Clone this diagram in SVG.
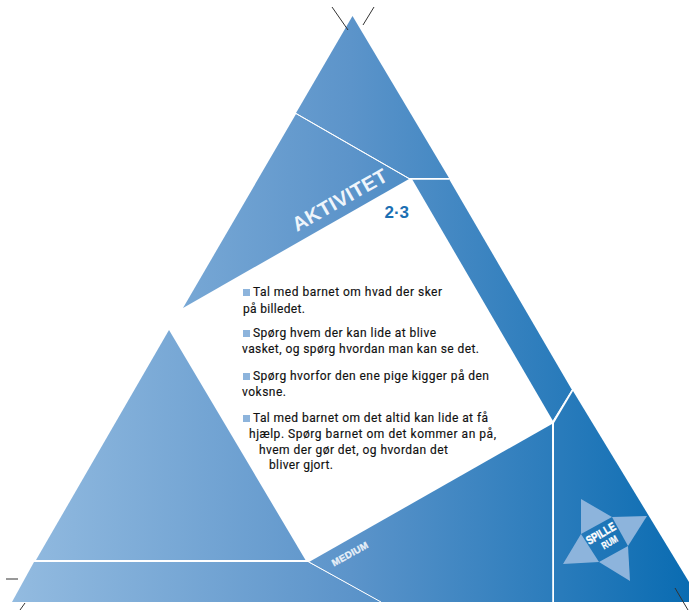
<svg xmlns="http://www.w3.org/2000/svg" width="689" height="610" viewBox="0 0 689 610">
<style>
.f{fill:url(#g)}
.w{stroke:#fff;fill:none}
.tick{stroke:#333;stroke-width:1;fill:none}
.b{font-family:"Roboto","Liberation Sans",sans-serif;font-size:12px;font-weight:400;fill:#111;stroke:#111;stroke-width:0.150}
.s{fill:#8db4dc}
.h{font-family:"Liberation Sans",sans-serif;font-weight:700}
</style>
<defs>
<linearGradient id="g" gradientUnits="userSpaceOnUse" x1="12" y1="0" x2="689" y2="0">
<stop offset="0" stop-color="#93bbe0"/>
<stop offset="0.5" stop-color="#5c94ca"/>
<stop offset="1" stop-color="#0a6cb2"/>
</linearGradient>
</defs>
<rect width="689" height="610" fill="#fff"/>
<polygon class="f" points="352.5,16 449,178 409,178 296,113"/>
<polygon class="f" points="296,114 409,179 183,308"/>
<polygon class="f" points="412,179 449,179 572,390 553,421"/>
<polygon class="f" points="573,391 689,582 689,602 554,602 554,423"/>
<polygon class="f" points="309,562 552,424 553,602 381,602"/>
<polygon class="f" points="169,330 305.500,560 36,560"/>
<polygon class="f" points="34,562 308,562 381,602 12,602"/>
<path class="w" stroke-width="1" d="M296,113.500L409,178.500M309,562L381,602M553,421L572,390"/>
<path class="w" stroke-width="1.500" d="M411,179H449M553,422V602"/>
<path class="tick" d="M332,7L348,30M374,7L363,25M6,579H18M25,603L20,610M675,588L688,610"/>
<text class="h" transform="translate(297,232) rotate(-29.500)" font-size="20" fill="#eff5fb" letter-spacing="0.300">AKTIVITET</text>
<text class="h" x="384.500" y="218" font-size="17" fill="#1b6fb3">2·3</text>
<text class="h" transform="translate(334,566.500) rotate(-29)" font-size="9.500" fill="#e8f0f8" stroke="#e8f0f8" stroke-width="0.300" letter-spacing="0.300">MEDIUM</text>
<g id="logo">
<polygon class="s" points="581,499 612,517 581,534"/>
<polygon class="s" points="612,517 647,516 628,546"/>
<polygon class="s" points="599,562 628,546 630,581"/>
<polygon class="s" points="581,534 599,562 563,564"/>
<text class="h" transform="translate(589,545) rotate(-30)" font-size="12" fill="#fff" stroke="#fff" stroke-width="0.400" textLength="32" lengthAdjust="spacingAndGlyphs">SPILLE</text>
<text class="h" transform="translate(604,549.500) rotate(-30)" font-size="10" fill="#fff" stroke="#fff" stroke-width="0.300" textLength="17" lengthAdjust="spacingAndGlyphs">RUM</text>
</g>
<g id="text">
<rect class="s" x="243" y="289" width="7" height="7"/>
<text class="b" x="253" y="296" textLength="189">Tal med barnet om hvad der sker</text>
<text class="b" x="243" y="312.500" textLength="62">på billedet.</text>
<rect class="s" x="243" y="330" width="7" height="7"/>
<text class="b" x="253" y="337" textLength="183">Spørg hvem der kan lide at blive</text>
<text class="b" x="242" y="353" textLength="237">vasket, og spørg hvordan man kan se det.</text>
<rect class="s" x="243" y="373" width="7" height="7"/>
<text class="b" x="253" y="380" textLength="236">Spørg hvorfor den ene pige kigger på den</text>
<text class="b" x="242" y="396" textLength="44">voksne.</text>
<rect class="s" x="243" y="415" width="7" height="7"/>
<text class="b" x="253" y="422" textLength="235">Tal med barnet om det altid kan lide at få</text>
<text class="b" x="249" y="438" textLength="247">hjælp. Spørg barnet om det kommer an på,</text>
<text class="b" x="259" y="453.500" textLength="189">hvem der gør det, og hvordan det</text>
<text class="b" x="269" y="469" textLength="64">bliver gjort.</text>
</g>
</svg>
